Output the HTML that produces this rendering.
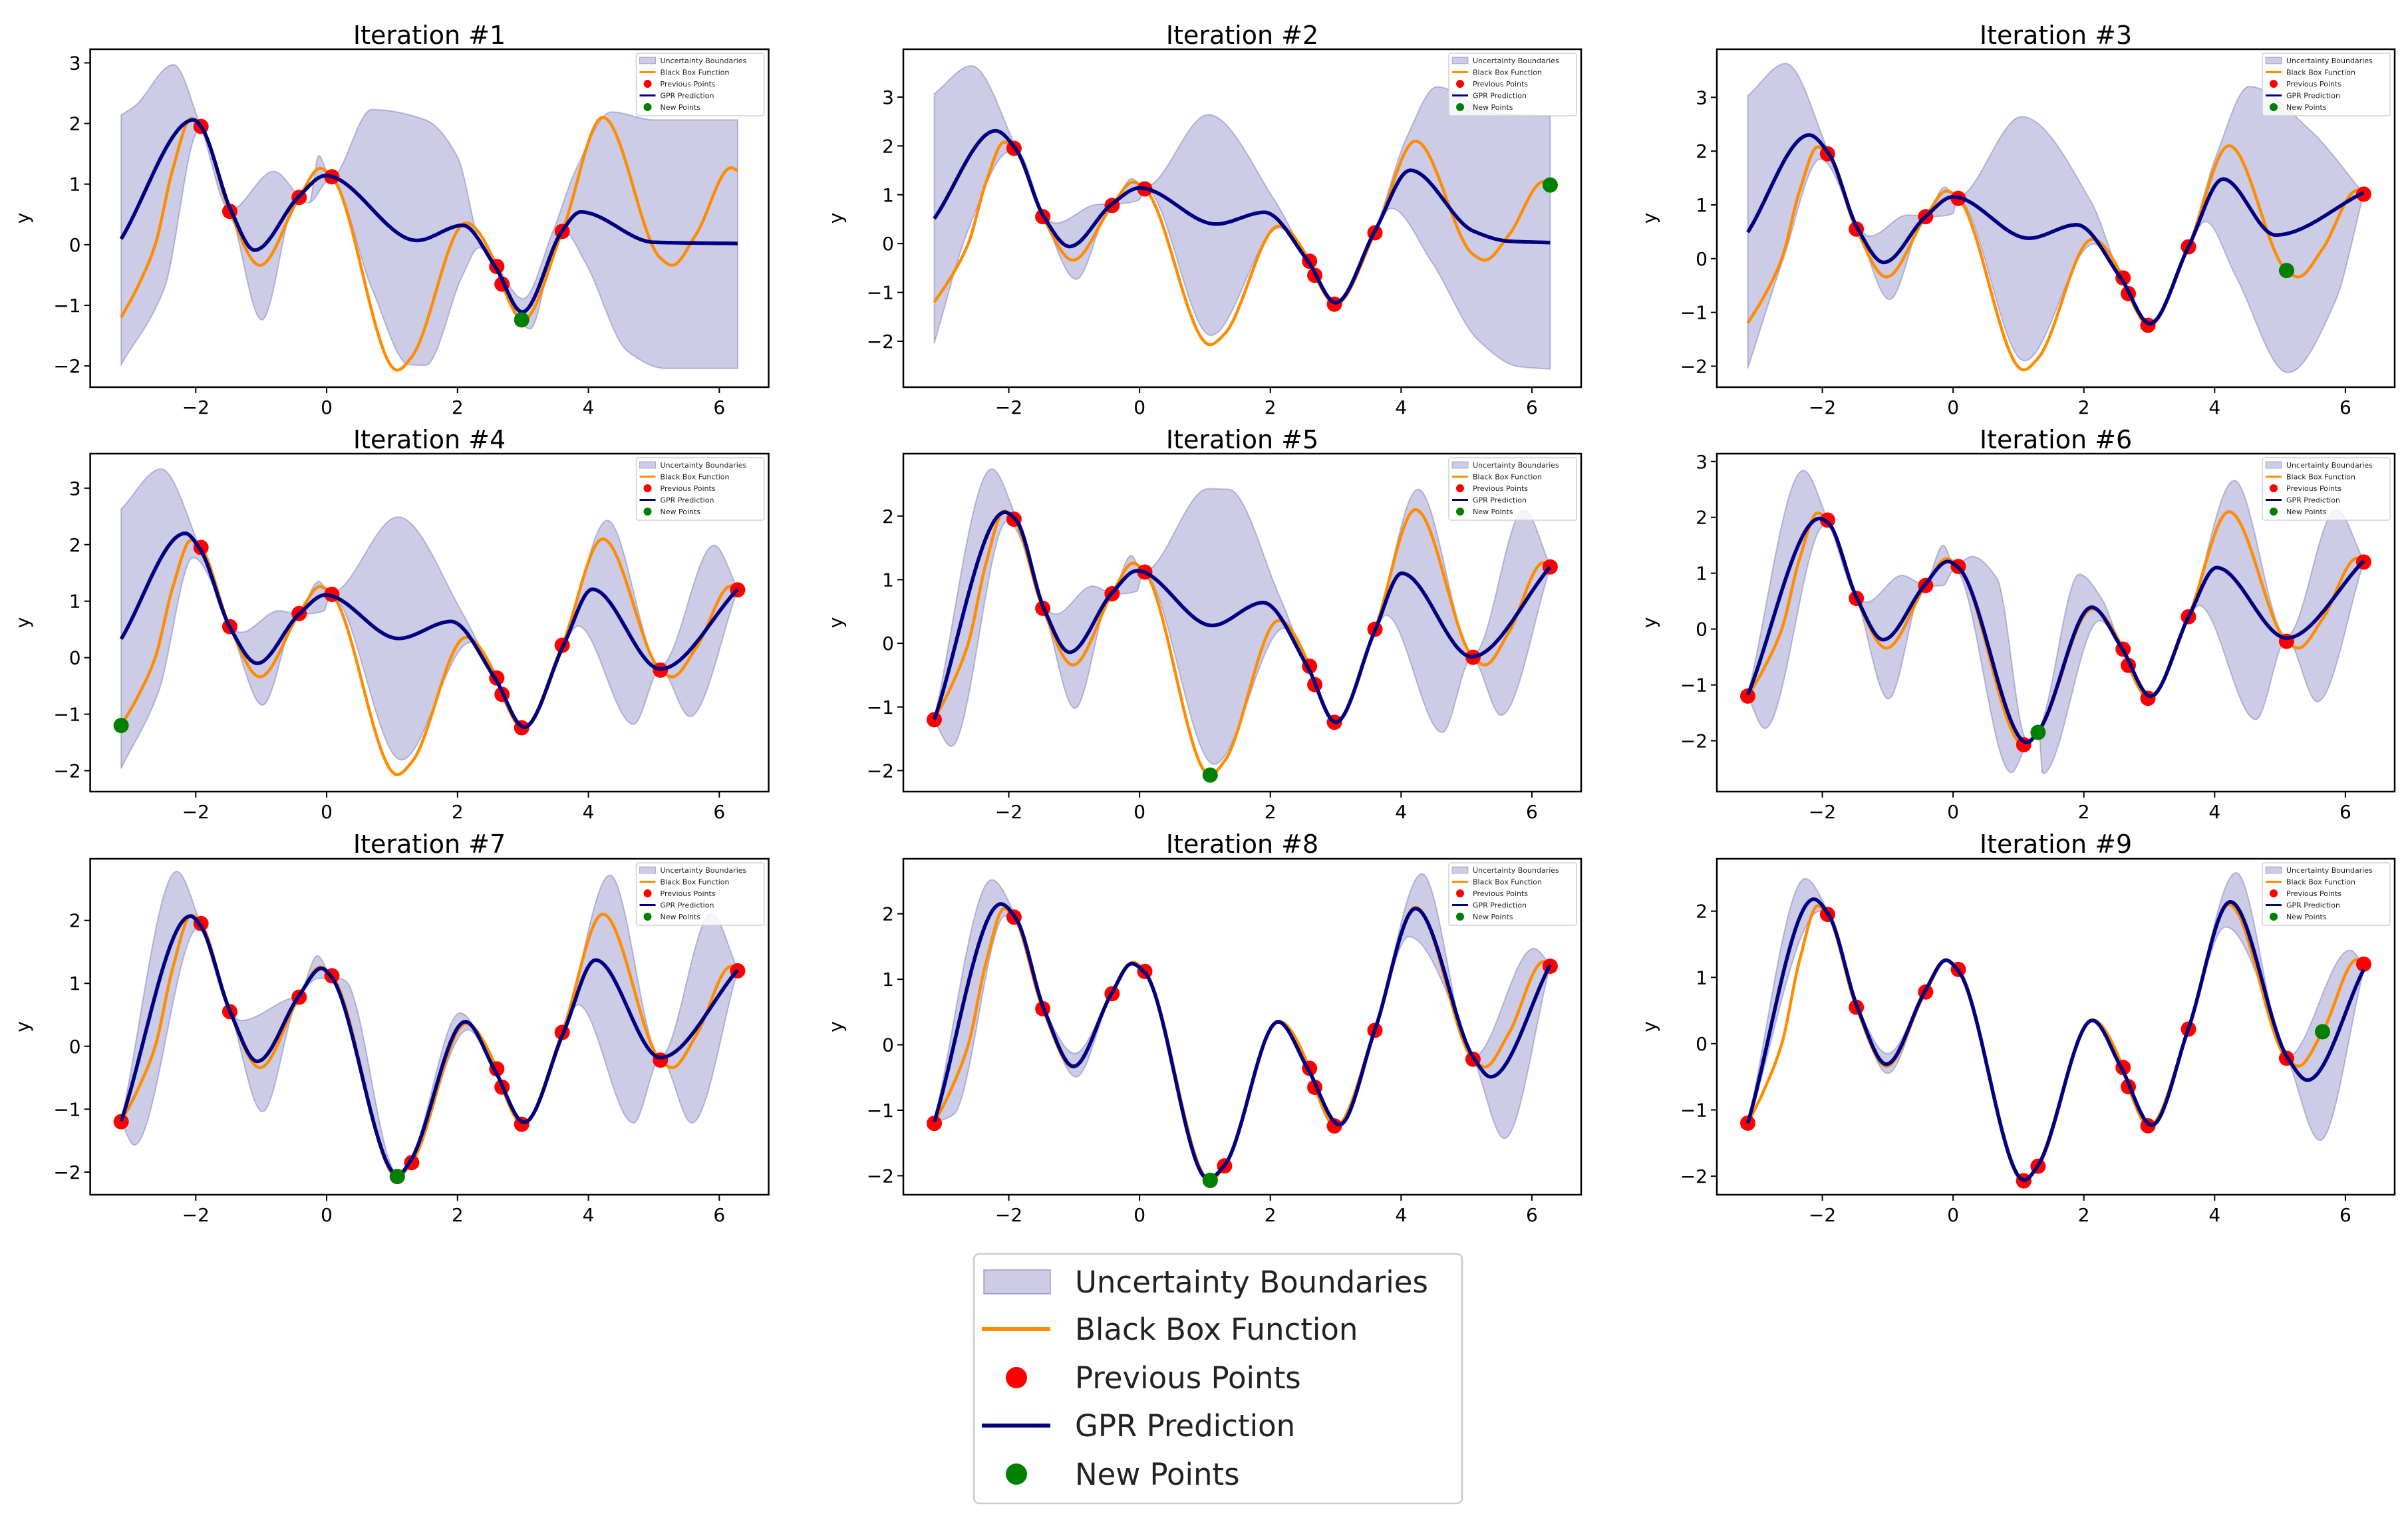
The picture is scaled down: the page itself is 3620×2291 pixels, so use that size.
<!DOCTYPE html>
<html><head><meta charset="utf-8">
<style>
html,body{margin:0;padding:0;background:#fff;}
svg{display:block;font-family:"DejaVu Sans","Liberation Sans",sans-serif;}
</style></head>
<body>
<svg id="fig" width="3620" height="2291" viewBox="0 0 3620 2291" xmlns="http://www.w3.org/2000/svg"></svg>
<script>
// ---------- data (knots) ----------
const blackBox = [[-3.14,-1.2],[-2.9,-0.72],[-2.62,0],[-2.35,1.25],[-2.07,2.08],[-1.92,1.95],[-1.48,0.55],[-1.02,-0.34],[-0.42,0.78],[-0.1,1.26],[0.08,1.12],[1.08,-2.07],[1.3,-1.85],[2.13,0.36],[2.6,-0.36],[2.68,-0.65],[3.0,-1.24],[3.6,0.22],[4.22,2.1],[5.1,-0.22],[5.28,-0.34],[5.65,0.18],[6.18,1.27],[6.28,1.22]];
const initialPoints = [[-1.92,1.95],[-1.48,0.55],[-0.42,0.78],[0.08,1.12],[2.6,-0.36],[2.68,-0.65],[3.6,0.22]];
const newPoints = [[2.98,-1.24],[6.28,1.2],[5.1,-0.22],[-3.14,-1.2],[1.08,-2.07],[1.3,-1.85],[1.08,-2.07],[1.08,-2.07],[5.65,0.18]];

const mean1 = [[-3.14,0.095],[-2.03,2.06],[-1.92,1.95],[-1.46,0.56],[-1.1,-0.09],[-0.43,0.79],[-0.02,1.14],[1.38,0.07],[2.08,0.32],[2.58,-0.37],[2.99,-1.11],[3.6,0.23],[3.88,0.54],[5.0,0.04],[6.28,0.02]];
const upper1 = [[-3.14,2.14],[-2.93,2.29],[-2.34,2.97],[-1.93,1.97],[-1.48,0.57],[-0.81,1.21],[-0.27,0.69],[-0.12,1.47],[0.06,1.1],[0.69,2.23],[1.51,2.06],[2.0,1.45],[2.36,-0.03],[2.6,-0.35],[3.0,-0.89],[3.46,0.23],[3.82,1.27],[4.35,2.19],[5.0,2.06],[6.28,2.06]];
const lower1 = [[-3.14,-1.98],[-2.48,-0.72],[-1.95,1.88],[-1.46,0.54],[-0.99,-1.24],[-0.45,0.75],[-0.28,0.69],[0.06,1.08],[0.69,-0.72],[1.26,-1.98],[1.51,-1.99],[2.08,-0.5],[2.33,-0.05],[2.56,-0.37],[3.11,-1.39],[3.46,-0.11],[3.62,0.23],[3.95,-0.29],[4.6,-1.76],[5.17,-2.04],[6.28,-2.04]];

const mean2 = [[-3.14,0.51],[-2.2,2.31],[-1.89,1.93],[-1.46,0.54],[-1.07,-0.06],[-0.43,0.8],[0,1.14],[1.17,0.4],[1.91,0.64],[2.57,-0.35],[3.0,-1.21],[3.6,0.26],[4.14,1.5],[5.1,0.26],[5.64,0.05],[6.28,0.02]];
const upper2 = [[-3.14,3.07],[-2.57,3.64],[-1.89,1.97],[-1.46,0.56],[-1.28,0.42],[-0.66,0.8],[-0.43,0.82],[-0.12,1.33],[0.08,1.16],[1.05,2.64],[2.06,0.9],[2.57,-0.33],[3.0,-1.16],[3.6,0.29],[4.09,2.19],[4.55,3.21],[5.41,2.67],[6.28,2.61]];
const lower2 = [[-3.14,-2.04],[-2.61,0.32],[-2.02,1.87],[-1.89,1.91],[-1.46,0.53],[-0.97,-0.73],[-0.43,0.77],[0,0.9],[0.08,1.13],[1.09,-1.88],[2.14,0.32],[2.57,-0.37],[3.0,-1.24],[3.6,0.25],[3.85,0.72],[4.47,-0.38],[5.18,-1.98],[5.8,-2.52],[6.28,-2.57]];

const mean3 = [[-3.14,0.49],[-2.2,2.3],[-1.9,1.95],[-1.46,0.56],[-1.06,-0.07],[-0.43,0.77],[0,1.15],[1.16,0.38],[1.89,0.63],[2.57,-0.37],[3.01,-1.21],[3.6,0.22],[4.13,1.48],[4.93,0.44],[6.28,1.23]];
const upper3 = [[-3.14,3.03],[-2.56,3.63],[-1.9,1.97],[-1.46,0.58],[-1.27,0.42],[-0.7,0.81],[-0.43,0.8],[-0.13,1.33],[0.06,1.15],[1.05,2.64],[2.11,1.06],[2.57,-0.34],[3.01,-1.16],[3.6,0.25],[4.02,1.9],[4.53,3.2],[5.46,2.39],[6.28,1.21]];
const lower3 = [[-3.14,-2.04],[-2.6,-0.02],[-2.03,1.85],[-1.46,0.54],[-0.97,-0.76],[-0.43,0.75],[0,0.84],[0.06,1.11],[1.09,-1.9],[2.15,0.27],[2.57,-0.38],[3.01,-1.26],[3.6,0.2],[3.86,0.69],[4.32,-0.32],[5.12,-2.12],[5.84,-0.81],[6.28,1.21]];

const mean4 = [[-3.14,0.33],[-2.16,2.2],[-1.93,1.91],[-1.47,0.52],[-1.06,-0.1],[-0.43,0.76],[-0.02,1.11],[1.1,0.34],[1.9,0.64],[2.57,-0.36],[3.02,-1.23],[3.62,0.22],[4.06,1.21],[5.1,-0.2],[6.28,1.21]];
const upper4 = [[-3.14,2.63],[-2.53,3.34],[-1.93,1.93],[-1.47,0.54],[-1.31,0.45],[-0.73,0.83],[-0.45,0.78],[-0.12,1.35],[0.06,1.14],[1.09,2.49],[2.08,0.78],[2.57,-0.34],[3.02,-1.19],[3.62,0.24],[4.29,2.43],[5.1,-0.14],[5.92,1.99],[6.28,1.23]];
const lower4 = [[-3.14,-1.96],[-2.57,-0.61],[-2.04,1.77],[-1.47,0.51],[-0.98,-0.84],[-0.45,0.74],[-0.04,0.83],[0.06,1.11],[1.14,-1.81],[2.2,0.27],[2.57,-0.38],[3.02,-1.27],[3.62,0.2],[3.84,0.56],[4.69,-1.18],[5.1,-0.21],[5.55,-1.04],[6.28,1.19]];

const mean5 = [[-3.14,-1.2],[-2.06,2.06],[-1.89,1.94],[-1.46,0.54],[-1.07,-0.14],[-0.43,0.78],[-0.04,1.14],[1.11,0.28],[1.89,0.64],[2.57,-0.37],[3.0,-1.24],[3.6,0.2],[4.01,1.1],[5.08,-0.21],[6.28,1.2]];
const upper5 = [[-3.14,-1.18],[-2.26,2.74],[-1.89,1.98],[-1.46,0.56],[-1.28,0.46],[-0.72,0.9],[-0.43,0.8],[-0.13,1.38],[0.05,1.12],[1.05,2.43],[1.36,2.42],[2.14,0.74],[2.57,-0.34],[3.0,-1.2],[3.6,0.22],[4.26,2.42],[5.11,-0.16],[5.88,2.1],[6.28,1.22]];
const lower5 = [[-3.14,-1.22],[-2.88,-1.62],[-2.02,1.92],[-1.46,0.52],[-0.99,-1.02],[-0.43,0.75],[-0.04,0.82],[0.05,1.1],[1.14,-1.9],[2.22,0.24],[2.57,-0.38],[3.0,-1.28],[3.6,0.18],[3.77,0.44],[4.63,-1.4],[5.08,-0.24],[5.53,-1.13],[6.28,1.18]];

const mean6 = [[-3.14,-1.18],[-2.04,1.98],[-1.91,1.9],[-1.47,0.55],[-1.07,-0.19],[-0.44,0.78],[-0.08,1.21],[0.08,1.1],[1.13,-2.03],[1.31,-1.82],[2.12,0.39],[2.58,-0.34],[3.02,-1.2],[3.61,0.24],[4.03,1.1],[5.1,-0.16],[6.28,1.22]];
const upper6 = [[-3.14,-1.17],[-2.29,2.84],[-1.91,1.93],[-1.47,0.57],[-1.33,0.48],[-0.78,0.96],[-0.44,0.8],[-0.15,1.5],[0.02,1.14],[0.29,1.3],[0.67,0.91],[1.13,-1.98],[1.31,-1.78],[1.93,0.98],[2.27,0.55],[2.58,-0.33],[3.02,-1.17],[3.61,0.26],[4.3,2.66],[5.1,-0.13],[5.86,2.14],[6.28,1.23]];
const lower6 = [[-3.14,-1.2],[-2.88,-1.78],[-1.96,1.86],[-1.47,0.53],[-0.99,-1.25],[-0.44,0.76],[-0.15,0.78],[0.02,1.07],[0.89,-2.57],[1.13,-2.07],[1.31,-1.87],[1.37,-2.59],[2.24,0.15],[2.58,-0.36],[3.02,-1.24],[3.61,0.21],[3.76,0.42],[4.63,-1.62],[5.1,-0.19],[5.57,-1.3],[6.28,1.19]];

const mean7 = [[-3.14,-1.19],[-2.08,2.07],[-1.93,1.92],[-1.47,0.54],[-1.06,-0.24],[-0.43,0.79],[-0.08,1.24],[0.06,1.12],[1.09,-2.05],[1.27,-1.84],[2.12,0.39],[2.57,-0.38],[3.02,-1.21],[3.62,0.22],[4.11,1.37],[5.1,-0.18],[6.28,1.21]];
const upper7 = [[-3.14,-1.18],[-2.29,2.78],[-1.93,1.96],[-1.47,0.55],[-1.31,0.41],[-0.61,0.74],[-0.43,0.81],[-0.14,1.44],[0.06,1.14],[0.29,1.04],[1.09,-2.03],[1.27,-1.82],[2.04,0.53],[2.57,-0.37],[3.02,-1.19],[3.62,0.24],[4.33,2.72],[5.1,-0.16],[5.88,2.11],[6.28,1.23]];
const lower7 = [[-3.14,-1.2],[-2.94,-1.57],[-1.96,1.88],[-1.47,0.53],[-0.98,-1.04],[-0.43,0.77],[-0.12,1.08],[0.06,1.08],[1.05,-2.07],[1.27,-1.86],[2.16,0.26],[2.57,-0.4],[3.02,-1.24],[3.62,0.2],[3.84,0.66],[4.69,-1.22],[5.1,-0.2],[5.58,-1.22],[6.28,1.19]];

const mean8 = [[-3.14,-1.18],[-2.12,2.15],[-1.89,1.93],[-1.46,0.54],[-1.01,-0.33],[-0.43,0.78],[-0.12,1.24],[0.08,1.1],[1.05,-2.05],[1.3,-1.84],[2.12,0.35],[2.57,-0.36],[3.06,-1.22],[3.6,0.23],[4.22,2.08],[5.11,-0.2],[5.37,-0.49],[6.28,1.22]];
const upper8 = [[-3.14,-1.16],[-2.26,2.52],[-1.89,1.95],[-1.46,0.56],[-0.99,-0.13],[-0.43,0.79],[-0.1,1.26],[0.08,1.11],[1.05,-2.03],[1.3,-1.82],[2.12,0.37],[2.57,-0.34],[3.06,-1.2],[3.6,0.25],[4.32,2.61],[5.11,-0.18],[6.03,1.47],[6.28,1.23]];
const lower8 = [[-3.14,-1.2],[-2.84,-1.06],[-2.05,1.97],[-1.89,1.92],[-1.46,0.53],[-0.97,-0.49],[-0.43,0.77],[-0.12,1.22],[0.08,1.09],[1.05,-2.07],[1.3,-1.86],[2.12,0.33],[2.57,-0.38],[3.06,-1.24],[3.6,0.22],[4.12,1.65],[5.11,-0.22],[5.58,-1.43],[6.28,1.2]];

const mean9 = [[-3.14,-1.2],[-2.13,2.18],[-1.9,1.94],[-1.46,0.54],[-1.02,-0.31],[-0.43,0.79],[-0.11,1.26],[0.08,1.1],[1.09,-2.06],[1.29,-1.85],[2.13,0.35],[2.57,-0.36],[3.04,-1.23],[3.6,0.23],[4.24,2.14],[5.12,-0.22],[5.42,-0.55],[6.28,1.12]];
const upper9 = [[-3.14,-1.18],[-2.26,2.49],[-1.9,1.96],[-1.46,0.56],[-1.0,-0.15],[-0.43,0.8],[-0.11,1.28],[0.08,1.11],[1.09,-2.04],[1.29,-1.83],[2.13,0.37],[2.57,-0.34],[3.04,-1.21],[3.6,0.25],[4.33,2.58],[5.12,-0.19],[6.07,1.41],[6.28,1.2]];
const lower9 = [[-3.14,-1.22],[-2.03,2.0],[-1.9,1.93],[-1.46,0.53],[-1.0,-0.45],[-0.43,0.78],[-0.11,1.24],[0.08,1.09],[1.09,-2.08],[1.29,-1.87],[2.13,0.33],[2.57,-0.38],[3.04,-1.25],[3.6,0.22],[4.17,1.76],[5.12,-0.24],[5.61,-1.46],[6.28,1.1]];

const means = [mean1,mean2,mean3,mean4,mean5,mean6,mean7,mean8,mean9];
const uppers = [upper1,upper2,upper3,upper4,upper5,upper6,upper7,upper8,upper9];
const lowers = [lower1,lower2,lower3,lower4,lower5,lower6,lower7,lower8,lower9];
const xTicks = [-2,0,2,4,6];
const yLimits = [[-2.35,3.225],[-2.94,3.98],[-2.39,3.895],[-2.37,3.61],[-2.33,2.98],[-2.91,3.14],[-2.36,2.98],[-2.29,2.84],[-2.28,2.79]];
const legendLabels = ["Uncertainty Boundaries","Black Box Function","Previous Points","GPR Prediction","New Points"];

// ---------- layout ----------
const XMIN=-3.613, XMAX=6.754;
const colL=[135.6,1358,2581], colR=[1155.5,2377,3600];
const rowT=[74,682,1291], rowB=[582,1190,1796];
const titleY=[52,660,1268];
const NS="http://www.w3.org/2000/svg";
const svg=document.getElementById('fig');
function el(tag,attrs,parent){const e=document.createElementNS(NS,tag);for(const k in attrs)e.setAttribute(k,attrs[k]);(parent||svg).appendChild(e);return e;}

function mono(pts){
  const n=pts.length,xs=pts.map(p=>p[0]),ys=pts.map(p=>p[1]);
  const d=[],h=[];
  for(let i=0;i<n-1;i++){h[i]=xs[i+1]-xs[i];d[i]=(ys[i+1]-ys[i])/h[i];}
  const m=new Array(n);
  m[0]=d[0];m[n-1]=d[n-2];
  for(let i=1;i<n-1;i++){
    if(d[i-1]*d[i]<=0)m[i]=0;
    else{const h0=h[i-1],h1=h[i];m[i]=3*(h0+h1)/((2*h1+h0)/d[i-1]+(h1+2*h0)/d[i]);}
  }
  return function(x){
    let i=0;while(i<n-2&&x>xs[i+1])i++;
    const t=Math.max(0,Math.min(1,(x-xs[i])/h[i])),t2=t*t,t3=t2*t;
    return (2*t3-3*t2+1)*ys[i]+(t3-2*t2+t)*h[i]*m[i]+(-2*t3+3*t2)*ys[i+1]+(t3-t2)*h[i]*m[i+1];
  };
}
function samples(pts){const f=mono(pts),a=pts[0][0],b=pts[pts.length-1][0],out=[];const N=500;for(let k=0;k<=N;k++){const x=a+(b-a)*k/N;out.push([x,f(x)]);}return out;}

for(let p=0;p<9;p++){
  const c=p%3,r=Math.floor(p/3);
  const L=colL[c],R=colR[c],T=rowT[r],B=rowB[r];
  const [ymin,ymax]=yLimits[p];
  const sx=x=>L+(x-XMIN)/(XMAX-XMIN)*(R-L);
  const sy=y=>B-(y-ymin)/(ymax-ymin)*(B-T);
  const g=el('g',{});
  
  
  const clipId='clip'+p;
  const cp=el('clipPath',{id:clipId},g);el('rect',{x:L,y:T,width:R-L,height:B-T},cp);
  const plot=el('g',{'clip-path':'url(#'+clipId+')'},g);
  const up=samples(uppers[p]),lo=samples(lowers[p]);
  let dPath='M'+up.map(q=>sx(q[0]).toFixed(1)+','+sy(q[1]).toFixed(1)).join('L')+'L'+lo.slice().reverse().map(q=>sx(q[0]).toFixed(1)+','+sy(q[1]).toFixed(1)).join('L')+'Z';
  const band=el('path',{d:dPath,fill:'rgba(0,0,128,0.2)',stroke:'rgba(0,0,128,0.22)','stroke-width':2},plot);
  
  
  const bb=samples(blackBox);
  const bbl=el('path',{d:'M'+bb.map(q=>sx(q[0]).toFixed(1)+','+sy(q[1]).toFixed(1)).join('L'),fill:'none',stroke:'#ff8c00','stroke-width':4.5},plot);
  
  
  const prev=initialPoints.concat(newPoints.slice(0,p));
  prev.forEach(q=>{const m=el('circle',{cx:sx(q[0]),cy:sy(q[1]),r:11.5,fill:'#ff0000'},plot);
    
    });
  const mn=samples(means[p]);
  const ml=el('path',{d:'M'+mn.map(q=>sx(q[0]).toFixed(1)+','+sy(q[1]).toFixed(1)).join('L'),fill:'none',stroke:'#000080','stroke-width':5.5},plot);
  
  
  const np=newPoints[p];
  const nc=el('circle',{cx:sx(np[0]),cy:sy(np[1]),r:11.5,fill:'#008000'},plot);
  
  
  const fr=el('rect',{x:L,y:T,width:R-L,height:B-T,fill:'none',stroke:'#000','stroke-width':2.5},g);
  
  
  xTicks.forEach(t=>{const X=sx(t);el('line',{x1:X,y1:B,x2:X,y2:B+9,stroke:'#000','stroke-width':2},g);
    const tx=el('text',{x:X,y:B+40,'font-size':28,'text-anchor':'middle',fill:'#000'},g);tx.textContent=(t<0?'\u2212'+(-t):''+t);
    
    });
  for(let t=Math.ceil(ymin);t<=Math.floor(ymax);t++){const Y=sy(t);el('line',{x1:L-9,y1:Y,x2:L,y2:Y,stroke:'#000','stroke-width':2},g);
    const ty=el('text',{x:L-14,y:Y+10,'font-size':28,'text-anchor':'end',fill:'#000'},g);ty.textContent=(t<0?'\u2212'+(-t):''+t);
    
    }
  const yl=el('text',{x:0,y:0,'font-size':28,'text-anchor':'middle',transform:'translate('+(L-92)+','+((T+B)/2)+') rotate(-90)'},g);yl.textContent='y';
  
  
  const ti=el('text',{x:(L+R)/2,y:titleY[r]+14,'font-size':38,'text-anchor':'middle',fill:'#000'},g);ti.textContent='Iteration #'+(p+1);
  
  
  const lg=el('g',{},g);
  
  
  const lx=R-199,ly=T+6;
  el('rect',{x:lx,y:ly,width:192,height:94,rx:3,fill:'rgba(255,255,255,0.8)',stroke:'#d0d0d0','stroke-width':1.5},lg);
  legendLabels.forEach((lab,i)=>{const yy=ly+11+i*17.5;
    if(i===0)el('rect',{x:lx+5,y:yy-5,width:24,height:10,fill:'rgba(0,0,128,0.2)',stroke:'rgba(0,0,128,0.25)'},lg);
    if(i===1)el('line',{x1:lx+5,y1:yy,x2:lx+29,y2:yy,stroke:'#ff8c00','stroke-width':3},lg);
    if(i===2)el('circle',{cx:lx+17,cy:yy,r:6,fill:'#ff0000'},lg);
    if(i===3)el('line',{x1:lx+5,y1:yy,x2:lx+29,y2:yy,stroke:'#000080','stroke-width':3},lg);
    if(i===4)el('circle',{cx:lx+17,cy:yy,r:6,fill:'#008000'},lg);
    const tt=el('text',{x:lx+36,y:yy+4,'font-size':11,fill:'#222'},lg);tt.textContent=lab;});
}

const LG=el('g',{});


el('rect',{x:1464,y:1885,width:734,height:375,rx:8,fill:'#fff',stroke:'#cccccc','stroke-width':2.5},LG);
const rowsY=[1927,1998,2071,2143,2216];
legendLabels.forEach((lab,i)=>{
  const yy=rowsY[i];
  if(i===0)el('rect',{x:1479,y:yy-18,width:100,height:36,fill:'rgba(0,0,128,0.2)',stroke:'rgba(0,0,128,0.25)','stroke-width':2},LG);
  if(i===1)el('line',{x1:1476,y1:yy,x2:1579,y2:yy,stroke:'#ff8c00','stroke-width':6},LG);
  if(i===2)el('circle',{cx:1528,cy:yy,r:16,fill:'#ff0000'},LG);
  if(i===3)el('line',{x1:1476,y1:yy,x2:1579,y2:yy,stroke:'#000080','stroke-width':6},LG);
  if(i===4)el('circle',{cx:1528,cy:yy,r:16,fill:'#008000'},LG);
  const t=el('text',{x:1616,y:yy+16,'font-size':45,fill:'#222'},LG);t.textContent=lab;
  
  
});
</script>
</body></html>
